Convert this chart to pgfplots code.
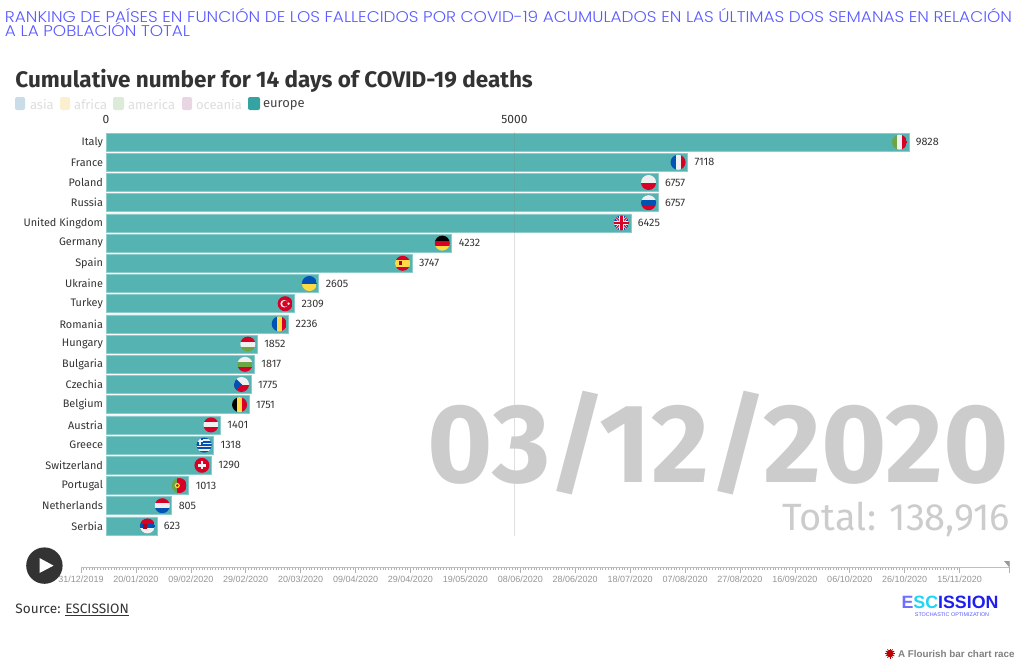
\documentclass[border=0pt]{standalone}
\usepackage{pgfplots}
\pgfplotsset{compat=1.18}
\usepackage{fontspec}
\setmainfont{Fira Sans}
\newfontfamily\headf{Poppins Light}
\newfontfamily\arial{Liberation Sans}
\definecolor{barc}{HTML}{55B3B1}
\definecolor{bare}{HTML}{8CCDCB}
\definecolor{head}{HTML}{5A5AFF}
\definecolor{txt}{HTML}{333333}
\definecolor{bigg}{HTML}{CCCCCC}
% horizontal band from y1 to y2
\def\HB#1#2#3{\pgfsetfillcolor{#1}\pgfpathrectanglecorners{\pgfpoint{-8pt}{#2pt}}{\pgfpoint{8pt}{#3pt}}\pgfusepath{fill}}
% vertical band from x1 to x2
\def\VB#1#2#3{\pgfsetfillcolor{#1}\pgfpathrectanglecorners{\pgfpoint{#2pt}{-8pt}}{\pgfpoint{#3pt}{8pt}}\pgfusepath{fill}}
\def\flag#1#2{\pgfdeclareplotmark{#1}{\pgfscope\pgfpathcircle{\pgfpointorigin}{7.5pt}\pgfusepath{clip}#2\endpgfscope}}
\definecolor{fred}{HTML}{D80027}
\definecolor{fblue}{HTML}{0052B4}
\definecolor{fwhite}{HTML}{F0F0F0}
\definecolor{fgreen}{HTML}{6DA544}
\definecolor{fyellow}{HTML}{FFDA44}
\definecolor{fblack}{HTML}{000000}
\flag{fIT}{\VB{fgreen}{-8}{-2.5}\VB{fwhite}{-2.5}{2.5}\VB{fred}{2.5}{8}}
\flag{fFR}{\VB{fblue}{-8}{-2.5}\VB{fwhite}{-2.5}{2.5}\VB{fred}{2.5}{8}}
\flag{fPL}{\HB{fwhite}{0}{8}\HB{fred}{-8}{0}}
\flag{fRU}{\HB{fwhite}{2.5}{8}\HB{fblue}{-2.5}{2.5}\HB{fred}{-8}{-2.5}}
\flag{fUK}{\HB{fblue}{-8}{8}%
  \pgfsetstrokecolor{fwhite}\pgfsetlinewidth{2.4pt}%
  \pgfpathmoveto{\pgfpoint{-8pt}{-8pt}}\pgfpathlineto{\pgfpoint{8pt}{8pt}}\pgfpathmoveto{\pgfpoint{-8pt}{8pt}}\pgfpathlineto{\pgfpoint{8pt}{-8pt}}\pgfusepath{stroke}%
  \pgfsetstrokecolor{fred}\pgfsetlinewidth{1pt}%
  \pgfpathmoveto{\pgfpoint{-8pt}{-8pt}}\pgfpathlineto{\pgfpoint{8pt}{8pt}}\pgfpathmoveto{\pgfpoint{-8pt}{8pt}}\pgfpathlineto{\pgfpoint{8pt}{-8pt}}\pgfusepath{stroke}%
  \HB{fwhite}{-2.2}{2.2}\VB{fwhite}{-2.2}{2.2}\HB{fred}{-1.2}{1.2}\VB{fred}{-1.2}{1.2}}
\flag{fDE}{\HB{fblack}{2.5}{8}\HB{fred}{-2.5}{2.5}\HB{fyellow}{-8}{-2.5}}
\flag{fES}{\HB{fred}{3.5}{8}\HB{fyellow}{-3.5}{3.5}\HB{fred}{-8}{-3.5}\pgfsetfillcolor{fred!75!black}\pgfpathrectangle{\pgfpoint{-4pt}{-2pt}}{\pgfpoint{3pt}{4pt}}\pgfusepath{fill}}
\flag{fUA}{\HB{fblue}{0}{8}\HB{fyellow}{-8}{0}}
\flag{fTR}{\HB{fred}{-8}{8}\pgfsetfillcolor{fwhite}\pgfpathcircle{\pgfpoint{-1pt}{0pt}}{3.8pt}\pgfusepath{fill}\pgfsetfillcolor{fred}\pgfpathcircle{\pgfpoint{0pt}{0pt}}{3pt}\pgfusepath{fill}\pgfsetfillcolor{fwhite}\pgfpathcircle{\pgfpoint{3.4pt}{0pt}}{1.3pt}\pgfusepath{fill}}
\flag{fRO}{\VB{fblue}{-8}{-2.5}\VB{fyellow}{-2.5}{2.5}\VB{fred}{2.5}{8}}
\flag{fHU}{\HB{fred}{2.5}{8}\HB{fwhite}{-2.5}{2.5}\HB{fgreen}{-8}{-2.5}}
\flag{fBG}{\HB{fwhite}{2.5}{8}\HB{fgreen}{-2.5}{2.5}\HB{fred}{-8}{-2.5}}
\flag{fCZ}{\HB{fwhite}{0}{8}\HB{fred}{-8}{0}\pgfsetfillcolor{fblue}\pgfpathmoveto{\pgfpoint{-8pt}{8pt}}\pgfpathlineto{\pgfpoint{0.5pt}{0pt}}\pgfpathlineto{\pgfpoint{-8pt}{-8pt}}\pgfpathclose\pgfusepath{fill}}
\flag{fBE}{\VB{fblack}{-8}{-2.5}\VB{fyellow}{-2.5}{2.5}\VB{fred}{2.5}{8}}
\flag{fAT}{\HB{fred}{2.5}{8}\HB{fwhite}{-2.5}{2.5}\HB{fred}{-8}{-2.5}}
\flag{fGR}{\HB{fblue}{-8}{8}\HB{fwhite}{4.2}{5.8}\HB{fwhite}{1}{2.6}\HB{fwhite}{-2.2}{-0.6}\HB{fwhite}{-5.4}{-3.8}\pgfsetfillcolor{fblue}\pgfpathrectanglecorners{\pgfpoint{-8pt}{0pt}}{\pgfpoint{-1pt}{8pt}}\pgfusepath{fill}\pgfsetfillcolor{fwhite}\pgfpathrectanglecorners{\pgfpoint{-5pt}{0pt}}{\pgfpoint{-3.6pt}{8pt}}\pgfusepath{fill}\pgfpathrectanglecorners{\pgfpoint{-8pt}{3.3pt}}{\pgfpoint{-1pt}{4.7pt}}\pgfusepath{fill}}
\flag{fCH}{\HB{fred}{-8}{8}\pgfsetfillcolor{fwhite}\pgfpathrectanglecorners{\pgfpoint{-4pt}{-1.3pt}}{\pgfpoint{4pt}{1.3pt}}\pgfusepath{fill}\pgfpathrectanglecorners{\pgfpoint{-1.3pt}{-4pt}}{\pgfpoint{1.3pt}{4pt}}\pgfusepath{fill}}
\flag{fPT}{\VB{fgreen}{-8}{-2}\VB{fred}{-2}{8}\pgfsetfillcolor{fyellow}\pgfpathcircle{\pgfpoint{-2pt}{0pt}}{2.6pt}\pgfusepath{fill}\pgfsetfillcolor{fred}\pgfpathcircle{\pgfpoint{-2pt}{0pt}}{1.4pt}\pgfusepath{fill}}
\flag{fNL}{\HB{fred}{2.5}{8}\HB{fwhite}{-2.5}{2.5}\HB{fblue}{-8}{-2.5}}
\flag{fRS}{\HB{fred}{2.5}{8}\HB{fblue}{-2.5}{2.5}\HB{fwhite}{-8}{-2.5}\pgfsetfillcolor{fred!80!black}\pgfpathrectangle{\pgfpoint{-4pt}{-3pt}}{\pgfpoint{3.5pt}{5pt}}\pgfusepath{fill}}
\pgfplotstableread{
y val
0 9828
1 7118
2 6757
3 6757
4 6425
5 4232
6 3747
7 2605
8 2309
9 2236
10 1852
11 1817
12 1775
13 1751
14 1401
15 1318
16 1290
17 1013
18 805
19 623
}\racedata
\begin{document}
\begin{tikzpicture}[x=1pt,y=-1pt,inner sep=0pt,outer sep=0pt]
\path[use as bounding box] (0,0) rectangle (1024,670);
% heading
\node[anchor=west,text=head] at (5,15) {\scalebox{1.091}[1]{\fontsize{15.5}{16}\selectfont\headf RANKING DE PAÍSES EN FUNCIÓN DE LOS FALLECIDOS POR COVID-19 ACUMULADOS EN LAS ÚLTIMAS DOS SEMANAS EN RELACIÓN}};
\node[anchor=west,text=head] at (5,29) {\scalebox{1.091}[1]{\fontsize{15.5}{16}\selectfont\headf A LA POBLACIÓN TOTAL}};
\node[anchor=west,text=txt] at (15.5,81) {\fontsize{22.5}{24}\selectfont\bfseries Cumulative number for 14 days of COVID-19 deaths};
% legend
\foreach \xa/\wa/\c/\t/\tc/\xb in {
  15/10/C9DCE8/asia/DDDDDD/30,
  60/10/FBEFCF/africa/DDDDDD/74,
  113/11/DCEBD7/america/DDDDDD/128,
  182/10/E8D6E3/oceania/DDDDDD/196,
  248/12/36A3A3/europe/444444/263}{
  \definecolor{sw}{HTML}{\c}\definecolor{swt}{HTML}{\tc}
  \fill[sw,rounded corners=2pt] (\xa,97) rectangle ++(\wa,13);
  \node[anchor=west,text=swt] at (\xb,105) {\fontsize{13}{14}\selectfont \t};
}
\begin{axis}[
  at={(106pt,-132pt)},anchor=north west,
  y dir=reverse,
  scale only axis,width=817pt,height=404pt,
  xmin=0,xmax=10000,ymin=-0.5,ymax=19.5,
  axis line style={draw=none},
  major tick style={draw=none},
  xtick={0,5000},
  scaled x ticks=false,
  xticklabel pos=upper,
  x tick label style={font=\fontsize{12}{13}\selectfont,text=txt,yshift=8pt},
  /pgf/number format/assume math mode=true,
  /pgf/number format/1000 sep={},
  ytick={0,...,19},
  yticklabels={Italy,France,Poland,Russia,United Kingdom,Germany,Spain,Ukraine,Turkey,Romania,Hungary,Bulgaria,Czechia,Belgium,Austria,Greece,Switzerland,Portugal,Netherlands,Serbia},
  y tick label style={font=\fontsize{10.9}{12}\selectfont,text=txt,xshift=-3pt},
  clip=false,
]
\addplot[xbar,bar width=18pt,bar shift=0pt,fill=barc,draw=bare,line width=0.7pt,
  nodes near coords,nodes near coords align={horizontal},
  every node near coord/.append style={font=\fontsize{10.8}{12}\selectfont,text=txt,xshift=7pt},
  /pgf/number format/1000 sep={},/pgf/number format/assume math mode=true,
  ] table[x=val,y=y]{\racedata};
\addplot[gray,opacity=0.25,line width=0.7pt] coordinates {(5000,-0.5)(5000,19.5)};
\addplot[only marks,mark=fIT] coordinates {(9712,0)};
\addplot[only marks,mark=fFR] coordinates {(7002,1)};
\addplot[only marks,mark=fPL] coordinates {(6641,2)};
\addplot[only marks,mark=fRU] coordinates {(6641,3)};
\addplot[only marks,mark=fUK] coordinates {(6309,4)};
\addplot[only marks,mark=fDE] coordinates {(4116,5)};
\addplot[only marks,mark=fES] coordinates {(3631,6)};
\addplot[only marks,mark=fUA] coordinates {(2489,7)};
\addplot[only marks,mark=fTR] coordinates {(2193,8)};
\addplot[only marks,mark=fRO] coordinates {(2120,9)};
\addplot[only marks,mark=fHU] coordinates {(1736,10)};
\addplot[only marks,mark=fBG] coordinates {(1701,11)};
\addplot[only marks,mark=fCZ] coordinates {(1659,12)};
\addplot[only marks,mark=fBE] coordinates {(1635,13)};
\addplot[only marks,mark=fAT] coordinates {(1285,14)};
\addplot[only marks,mark=fGR] coordinates {(1202,15)};
\addplot[only marks,mark=fCH] coordinates {(1174,16)};
\addplot[only marks,mark=fPT] coordinates {(897,17)};
\addplot[only marks,mark=fNL] coordinates {(689,18)};
\addplot[only marks,mark=fRS] coordinates {(507,19)};
\end{axis}
% big date
\node[anchor=east,text=bigg] at (1009,443) {\fontsize{112}{114}\selectfont\bfseries 03/12/2020};
\node[anchor=east,text=bigg] at (1010,519) {\fontsize{38}{39}\selectfont Total: 138,916};
% timeline
\begin{axis}[
  at={(81pt,-567.5pt)},anchor=south west,
  scale only axis,width=928pt,height=1pt,
  xmin=0,xmax=338,ymin=0,ymax=1,
  axis x line*=bottom,axis y line=none,
  axis line style={draw=black!25,line width=1pt,-},
  xtick={0,20,...,320},
  xticklabels={31/12/2019,20/01/2020,09/02/2020,29/02/2020,20/03/2020,09/04/2020,29/04/2020,19/05/2020,08/06/2020,28/06/2020,18/07/2020,07/08/2020,27/08/2020,16/09/2020,06/10/2020,26/10/2020,15/11/2020},
  minor x tick num=19,
  x tick label style={font=\fontsize{9}{10}\arial,text=black!42,yshift=-3pt},
  major tick length=5pt,minor tick length=2pt,
  tick align=outside,
  tick style={draw=black!30,line width=0.6pt},
  clip=false,
]
\end{axis}
\fill[black!40] (1004,561) -- (1009,561) -- (1009,567) -- cycle;
\draw[black!30,line width=0.8pt] (1009,561) -- (1009,573);
% play
\fill[black!80] (44.4,565.6) circle (18.2);
\fill[white] (39.5,558) -- (53.5,565.6) -- (39.5,573) -- cycle;
% source
\node[anchor=west,text=txt] at (15.5,610) {\fontsize{13.6}{15}\selectfont Source: \underline{ESCISSION}};
% logo
\definecolor{logoa}{HTML}{6F6FFF}
\definecolor{logob}{HTML}{1FD5F5}
\definecolor{logoc}{HTML}{1E1EEE}
\node[anchor=west] at (901.5,602) {\fontsize{17.8}{19}\selectfont\bfseries\arial\textcolor{logoa}{E}\textcolor{logob}{SC}\textcolor{logoc}{ISSION}};
\node[anchor=center,text=head] at (952,615) {\fontsize{5.4}{6}\selectfont\arial STOCHASTIC OPTIMIZATION};
% flourish
\foreach \a in {0,30,...,330}{\draw[red!70!black,line width=0.7pt] (890,653.5) -- ++(\a:5);}
\fill[red!75!black] (890,653.5) circle (3.6);
\node[anchor=west,text=black!50] at (898,653.5) {\fontsize{9.85}{11}\selectfont\bfseries\arial A Flourish bar chart race};
\end{tikzpicture}
\end{document}
